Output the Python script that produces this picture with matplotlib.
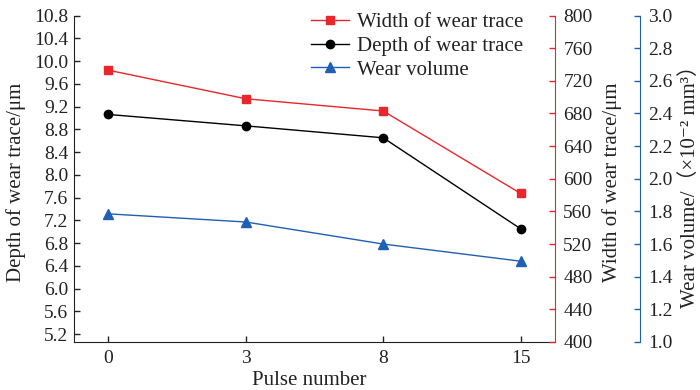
import matplotlib
matplotlib.use("Agg")
import matplotlib.pyplot as plt
import numpy as np

plt.rcParams['font.family'] = ['Liberation Serif', 'DejaVu Serif', 'Noto Sans CJK SC']

pulses = ["0", "3", "8", "15"]
depth = [9.06, 8.86, 8.65, 7.05]
width = [733, 698, 683, 582]
volume = [1.785, 1.735, 1.60, 1.495]

RED = "#e8262b"
BLUE = "#1f5fb4"
TXT = "#222222"
FS_TICK = 14
FS_LAB = 15

fig = plt.figure(figsize=(7, 3.9), dpi=100)
ax = fig.add_axes([74/700, 1-342/390, (555-74)/700, (342-15.5)/390])
ax2 = ax.twinx()
ax3 = ax.twinx()
ax3.spines['right'].set_position(('axes', (640-74)/481))

x = np.arange(len(pulses))
l2, = ax.plot(x, depth, color='black', marker='o', markersize=6, lw=1, label='Depth of wear trace')
l1, = ax2.plot(x, width, color=RED, marker='s', markersize=6, lw=1, label='Width of wear trace')
l3, = ax3.plot(x, volume, color=BLUE, marker='^', markersize=6.5, lw=1, label='Wear volume')

ax.set_xlim(-0.25, 3.25)
ax.set_xticks(x)
ax.set_xticklabels(pulses)
ax.set_ylim(5.06, 10.8)
yt = np.arange(5.2, 10.81, 0.4)
ax.set_yticks(yt)
ax.set_yticklabels([f"{v:.1f}" for v in yt])
ax2.set_ylim(400, 800)
ax2.set_yticks(np.arange(400, 801, 40))
ax3.set_ylim(1.0, 3.0)
vt = np.arange(1.0, 3.01, 0.2)
ax3.set_yticks(vt)
ax3.set_yticklabels([f"{v:.1f}" for v in vt])

for a in (ax, ax2, ax3):
    a.spines['top'].set_visible(False)
ax.spines['right'].set_visible(False)
for a in (ax2, ax3):
    a.spines['left'].set_visible(False)
    a.spines['bottom'].set_visible(False)

ax.tick_params(axis='both', direction='in', length=4, width=1, labelsize=FS_TICK, pad=4, colors=TXT)
ax.tick_params(axis='x', pad=6)
ax2.tick_params(axis='y', direction='in', length=4, width=1, colors=RED, labelcolor=TXT, labelsize=FS_TICK, pad=6)
ax3.tick_params(axis='y', direction='in', length=4, width=1, colors=BLUE, labelcolor=TXT, labelsize=FS_TICK, pad=6)
ax2.spines['right'].set_color(RED)
ax3.spines['right'].set_color(BLUE)
for s in ('left', 'bottom'):
    ax.spines[s].set_color(TXT)

ax.set_xlabel('Pulse number', fontsize=FS_LAB, color=TXT)
ax.set_ylabel('Depth of wear trace/μm', fontsize=FS_LAB, color=TXT)
ax2.set_ylabel('Width of wear trace/μm', fontsize=FS_LAB, color=TXT)
ax3.set_ylabel('Wear volume/（×10⁻² mm³）', fontsize=FS_LAB, color=TXT)
ax.xaxis.set_label_coords(0.49, -0.09)
ax.yaxis.set_label_coords((26-74)/481, 0.49)
ax2.yaxis.set_label_coords((602-74)/481, 0.49)
ax3.yaxis.set_label_coords((680-74)/481, 0.49)

leg = ax.legend([l1, l2, l3], [l1.get_label(), l2.get_label(), l3.get_label()],
                loc='upper left', bbox_to_anchor=(305/700, 1-6/390), bbox_transform=fig.transFigure,
                frameon=False, fontsize=FS_LAB, handlelength=1.8, handletextpad=0.4,
                labelspacing=0.2, borderpad=0.3, borderaxespad=0)
for t in leg.get_texts():
    t.set_color(TXT)

fig.savefig('out.png', dpi=100)
